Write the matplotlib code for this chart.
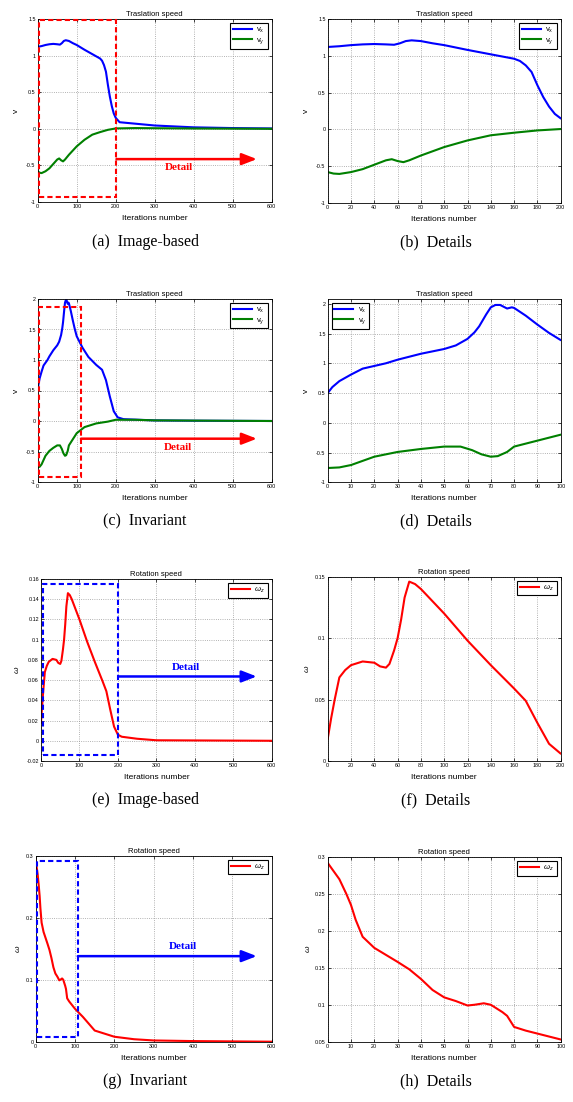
import matplotlib
matplotlib.use("Agg")
import matplotlib.pyplot as plt
from matplotlib.patches import Rectangle

plt.rcParams["font.family"] = ["Liberation Sans", "DejaVu Sans"]
plt.rcParams["mathtext.fontset"] = "custom"
plt.rcParams["mathtext.rm"] = "Liberation Sans"
plt.rcParams["mathtext.it"] = "Liberation Sans:italic"
plt.rcParams["axes.unicode_minus"] = False

# --- translation speed, image-based (a, b)
it_ax = [0, 10, 20, 30, 40, 50, 57, 62, 67, 72, 80, 90, 100, 120, 140, 160, 165, 170, 175, 180,
         185, 190, 195, 200, 210, 250, 300, 400, 500, 600]
vx_a = [1.12, 1.13, 1.145, 1.155, 1.16, 1.155, 1.15, 1.17, 1.2, 1.21, 1.2, 1.17, 1.145, 1.08, 1.02,
        0.96, 0.93, 0.87, 0.78, 0.6, 0.44, 0.31, 0.21, 0.15, 0.09, 0.07, 0.045, 0.02, 0.01, 0.005]
it_ay = [0, 5, 10, 20, 30, 40, 50, 55, 60, 65, 70, 80, 100, 120, 140, 160, 180, 200, 250, 300, 400, 600]
vy_a = [-0.58, -0.6, -0.605, -0.58, -0.54, -0.48, -0.42, -0.405, -0.43, -0.445, -0.42, -0.355, -0.24,
        -0.15, -0.08, -0.045, -0.014, 0.005, 0.01, 0.008, 0.004, 0.0]

# --- translation speed, invariant (c, d)
it_cx = [0, 2, 5, 10, 15, 20, 25, 30, 40, 50, 55, 60, 63, 65, 68, 70, 72, 74, 77, 79, 80, 85, 90, 95,
         100, 115, 130, 150, 165, 175, 185, 195, 205, 220, 300, 400, 600]
vx_c = [0.5, 0.6, 0.7, 0.81, 0.91, 0.955, 1.0, 1.06, 1.16, 1.24, 1.3, 1.41, 1.52, 1.62, 1.82, 1.94,
        1.98, 1.98, 1.92, 1.94, 1.93, 1.8, 1.65, 1.51, 1.39, 1.2, 1.05, 0.92, 0.84, 0.67, 0.4, 0.16,
        0.06, 0.03, 0.01, 0.005, 0.0]
it_cy = [0, 5, 10, 15, 20, 30, 40, 50, 57, 62, 66, 70, 73, 77, 80, 90, 100, 120, 150, 180, 200, 250,
         300, 600]
vy_c = [-0.76, -0.75, -0.71, -0.64, -0.57, -0.49, -0.44, -0.40, -0.40, -0.46, -0.53, -0.57, -0.56,
        -0.49, -0.40, -0.30, -0.20, -0.10, -0.04, -0.01, 0.02, 0.02, 0.01, 0.0]

# --- rotation speed, image-based (e, f)
it_e = [0, 3, 6, 10, 15, 20, 30, 40, 45, 50, 53, 57, 60, 63, 66, 70, 75, 80, 100, 120, 140, 160,
        170, 180, 190, 200, 210, 250, 300, 600]
w_e = [0.018, 0.035, 0.05, 0.068, 0.074, 0.078, 0.081, 0.08, 0.077, 0.076, 0.079, 0.09, 0.1, 0.115,
       0.133, 0.146, 0.144, 0.14, 0.12, 0.098, 0.078, 0.059, 0.049, 0.031, 0.014, 0.006, 0.004,
       0.002, 0.0005, 0.0]

# --- rotation speed, invariant (g, h)
it_g = [0, 5, 8, 10, 12, 15, 20, 30, 35, 40, 45, 50, 55, 60, 63, 67, 70, 75, 77, 80, 85, 90, 95,
        100, 120, 150, 200, 250, 300, 400, 600]
w_g = [0.292, 0.27, 0.25, 0.235, 0.215, 0.192, 0.177, 0.158, 0.148, 0.135, 0.12, 0.11, 0.105, 0.099,
       0.1, 0.102, 0.1, 0.09, 0.085, 0.07, 0.065, 0.061, 0.057, 0.053, 0.04, 0.018, 0.008, 0.004,
       0.002, 0.001, 0.0]

captions = ["(a)  Image-based", "(b)  Details", "(c)  Invariant", "(d)  Details",
            "(e)  Image-based", "(f)  Details", "(g)  Invariant", "(h)  Details"]

W, H = 573, 1102
fig = plt.figure(figsize=(W / 100, H / 100), dpi=100)
fig.patch.set_facecolor("white")

BLUE, GREEN, RED = "#0000ff", "#008000", "#ff0000"


def make_axes(l, t, r, b):
    ax = fig.add_axes([l / W, 1 - b / H, (r - l) / W, (b - t) / H])
    for s in ax.spines.values():
        s.set_linewidth(0.6)
        s.set_color("black")
    ax.tick_params(direction="in", length=2, width=0.5, labelsize=3.9, pad=1.5,
                   top=True, right=True)
    ax.grid(True, linestyle=":", linewidth=0.6, color="0.6")
    return ax


def decorate(ax, title, ylab, xlab_off, ylab_x):
    h_px = ax.get_position().height * H
    w_px = ax.get_position().width * W
    ax.set_title(title, fontsize=5.5, pad=2)
    ax.set_xlabel("Iterations number", fontsize=6)
    ax.xaxis.set_label_coords(0.5, -xlab_off / h_px)
    ax.set_ylabel(ylab, fontsize=6)
    ax.yaxis.set_label_coords(-ylab_x / w_px, 0.5)


def set_ticks(ax, xt, yt):
    ax.set_xticks(xt)
    ax.set_xticklabels(["%g" % v for v in xt])
    ax.set_yticks(yt)
    ax.set_yticklabels(["%g" % v for v in yt])


def legend(ax, loc):
    ax.legend(loc=loc, fontsize=5.6, frameon=True, fancybox=False, edgecolor="black",
              framealpha=1, handlelength=2.4, borderpad=0.35, labelspacing=0.15,
              handletextpad=0.6, borderaxespad=0.5).get_frame().set_linewidth(0.8)


def detail(ax, box, y_arrow, x_end, txt_xy, color):
    x0, y0, x1, y1 = box
    ax.add_patch(Rectangle((x0, y0), x1 - x0, y1 - y0, fill=False, ec=color, lw=1.5,
                           ls=(0, (2.5, 1.5)), zorder=5, clip_on=False))
    ax.annotate("", xy=(x_end, y_arrow), xytext=(x1, y_arrow),
                arrowprops=dict(arrowstyle="-|>,head_length=0.9,head_width=0.35", color=color,
                                lw=1.8, shrinkA=0, shrinkB=0), zorder=6)
    ax.text(txt_xy[0], txt_xy[1], "Detail", color=color, fontsize=8, fontweight="bold",
            family="Liberation Serif", ha="center", va="center", zorder=6)


lw = 1.5

# (a)
ax = make_axes(37.7, 19, 271.7, 202)
ax.plot(it_ax, vx_a, color=BLUE, lw=lw, label=r"$\mathrm{v}_\mathrm{x}$")
ax.plot(it_ay, vy_a, color=GREEN, lw=lw, label=r"$\mathrm{v}_\mathrm{y}$")
ax.set_xlim(0, 600)
ax.set_ylim(-1, 1.5)
set_ticks(ax, [0, 100, 200, 300, 400, 500, 600], [-1, -0.5, 0, 0.5, 1, 1.5])
legend(ax, "upper right")
detail(ax, (4, -0.936, 202, 1.486), -0.414, 562, (361, -0.527), RED)
decorate(ax, "Traslation speed", "v", 13, 18)

# (b)
ax = make_axes(327.7, 19, 560.7, 203)
ax.plot(it_ax, vx_a, color=BLUE, lw=lw, label=r"$\mathrm{v}_\mathrm{x}$")
ax.plot(it_ay, vy_a, color=GREEN, lw=lw, label=r"$\mathrm{v}_\mathrm{y}$")
ax.set_xlim(0, 200)
ax.set_ylim(-1, 1.5)
set_ticks(ax, list(range(0, 201, 20)), [-1, -0.5, 0, 0.5, 1, 1.5])
legend(ax, "upper right")
decorate(ax, "Traslation speed", "v", 13, 18)

# (c)
ax = make_axes(37.7, 299, 271.7, 482)
ax.plot(it_cx, vx_c, color=BLUE, lw=lw, label=r"$\mathrm{v}_\mathrm{x}$")
ax.plot(it_cy, vy_c, color=GREEN, lw=lw, label=r"$\mathrm{v}_\mathrm{y}$")
ax.set_xlim(0, 600)
ax.set_ylim(-1, 2)
set_ticks(ax, [0, 100, 200, 300, 400, 500, 600], [-1, -0.5, 0, 0.5, 1, 1.5, 2])
legend(ax, "upper right")
detail(ax, (4, -0.92, 111, 1.875), -0.29, 562, (360, -0.43), RED)
decorate(ax, "Traslation speed", "v", 13, 18)

# (d)
ax = make_axes(327.7, 299, 560.7, 482.3)
ax.plot(it_cx, vx_c, color=BLUE, lw=lw, label=r"$\mathrm{v}_\mathrm{x}$")
ax.plot(it_cy, vy_c, color=GREEN, lw=lw, label=r"$\mathrm{v}_\mathrm{y}$")
ax.set_xlim(0, 100)
ax.set_ylim(-1, 2.08)
set_ticks(ax, list(range(0, 101, 10)), [-1, -0.5, 0, 0.5, 1, 1.5, 2])
legend(ax, "upper left")
decorate(ax, "Traslation speed", "v", 13, 18)

# (e)
ax = make_axes(41, 579, 271.7, 761)
ax.plot(it_e, w_e, color=RED, lw=lw, label=r"$\omega_z$")
ax.set_xlim(0, 600)
ax.set_ylim(-0.02, 0.16)
set_ticks(ax, [0, 100, 200, 300, 400, 500, 600],
          [-0.02, 0, 0.02, 0.04, 0.06, 0.08, 0.1, 0.12, 0.14, 0.16])
legend(ax, "upper right")
detail(ax, (4.3, -0.0144, 201, 0.1547), 0.0636, 561, (376, 0.0728), BLUE)
decorate(ax, "Rotation speed", r"$\omega$", 13, 20)

# (f)
ax = make_axes(327.7, 576.7, 560.7, 761)
ax.plot(it_e, w_e, color=RED, lw=lw, label=r"$\omega_z$")
ax.set_xlim(0, 200)
ax.set_ylim(0, 0.15)
set_ticks(ax, list(range(0, 201, 20)), [0, 0.05, 0.1, 0.15])
legend(ax, "upper right")
decorate(ax, "Rotation speed", r"$\omega$", 13, 17)

# (g)
ax = make_axes(35.7, 855.7, 271.7, 1041.7)
ax.plot(it_g, w_g, color=RED, lw=lw, label=r"$\omega_z$")
ax.set_xlim(0, 600)
ax.set_ylim(0, 0.3)
set_ticks(ax, [0, 100, 200, 300, 400, 500, 600], [0, 0.1, 0.2, 0.3])
legend(ax, "upper right")
detail(ax, (4.2, 0.0075, 107, 0.2914), 0.138, 562, (375, 0.154), BLUE)
decorate(ax, "Rotation speed", r"$\omega$", 13, 14)

# (h)
ax = make_axes(327.7, 857, 560.7, 1041.7)
ax.plot(it_g, w_g, color=RED, lw=lw, label=r"$\omega_z$")
ax.set_xlim(0, 100)
ax.set_ylim(0.05, 0.3)
set_ticks(ax, list(range(0, 101, 10)), [0.05, 0.1, 0.15, 0.2, 0.25, 0.3])
legend(ax, "upper right")
decorate(ax, "Rotation speed", r"$\omega$", 13, 16)

# captions under each sub-figure
cap_x = [145, 436]
cap_y = [242, 521, 800, 1081]
for i, cap in enumerate(captions):
    fig.text(cap_x[i % 2] / W, 1 - cap_y[i // 2] / H, cap, fontsize=11.5,
             family="Liberation Serif", ha="center", va="center")

fig.savefig("out.png", dpi=100, facecolor="white")
